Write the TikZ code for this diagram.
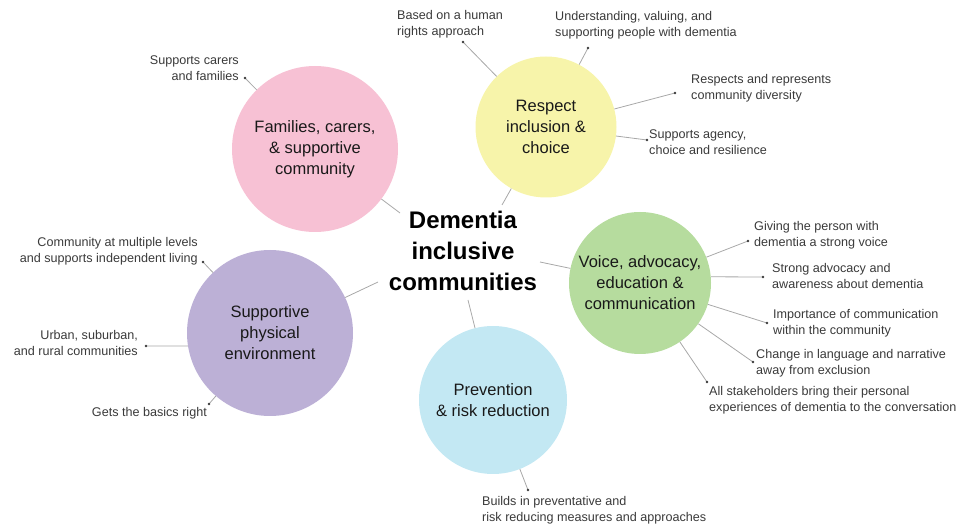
\documentclass[tikz,border=0pt]{standalone}
\usepackage{fontspec}
\setmainfont{Liberation Sans}
\definecolor{pinkc}{HTML}{F7C1D4}
\definecolor{yellowc}{HTML}{F7F4AA}
\definecolor{greenc}{HTML}{B6DC9E}
\definecolor{bluec}{HTML}{C3E8F3}
\definecolor{purplec}{HTML}{BCB0D6}
\definecolor{inkc}{HTML}{3A3A3A}
\definecolor{linkc}{HTML}{A8A8A8}
\begin{document}
\begin{tikzpicture}[x=1pt,y=-1pt,
	topic/.style={circle,inner sep=0pt,align=center,text=black!90,font=\fontsize{16.5}{21}\selectfont},
	hub/.style={align=center,font=\bfseries\fontsize{24}{31}\selectfont},
	notetext/.style={inner sep=0pt,text=inkc,font=\fontsize{12.6}{16.5}\selectfont},
	link/.style={draw=linkc,line width=0.8pt},
	dot/.style={fill=inkc}]
	\useasboundingbox (0,0) rectangle (970,526);
	% circles
	\node[topic,fill=pinkc,minimum size=166](fam) at (315,149){Families, carers,\\\& supportive\\community};
	\node[topic,fill=yellowc,minimum size=141](resp) at (546,127){Respect\\inclusion \&\\choice};
	\node[topic,fill=greenc,minimum size=142](voice) at (640,283){Voice, advocacy,\\education \&\\communication};
	\node[topic,fill=bluec,minimum size=148](prev) at (493,400){Prevention\\\& risk reduction};
	\node[topic,fill=purplec,minimum size=166](phys) at (270,333){Supportive\\physical\\environment};
	\node[hub](hub) at (463,251){Dementia\\inclusive\\communities};
	% links to the hub
	\coordinate (c1) at (400,213);
	\coordinate (c2) at (502,205);
	\coordinate (c3) at (540,262);
	\coordinate (c4) at (468,300);
	\coordinate (c5) at (378,282);
	\path[link]
		(fam) edge (c1)
		(resp) edge (c2)
		(voice) edge (c3)
		(prev) edge (c4)
		(phys) edge (c5);
	% notes
	\node[notetext,anchor=east,align=right](lcarers) at (239,68){Supports carers\\and families};
	\node[notetext,anchor=west,align=left](lhuman) at (397,24){Based on a human\\rights approach};
	\node[notetext,anchor=west,align=left](lvalue) at (555,25){Understanding, valuing, and\\supporting people with dementia};
	\node[notetext,anchor=west,align=left](ldivers) at (691,88){Respects and represents\\community diversity};
	\node[notetext,anchor=west,align=left](lagency) at (649,142){Supports agency,\\choice and resilience};
	\node[notetext,anchor=west,align=left](lvoice) at (754,235){Giving the person with\\dementia a strong voice};
	\node[notetext,anchor=west,align=left](ladvoc) at (772,276){Strong advocacy and\\awareness about dementia};
	\node[notetext,anchor=west,align=left](lcomm) at (773,323){Importance of communication\\within the community};
	\node[notetext,anchor=west,align=left](llang) at (756,363){Change in language and narrative\\away from exclusion};
	\node[notetext,anchor=west,align=left](lstake) at (709,400){All stakeholders bring their personal\\experiences of dementia to the conversation};
	\node[notetext,anchor=west,align=left](lbuild) at (482,510){Builds in preventative and\\risk reducing measures and approaches};
	\node[notetext,anchor=east,align=right](llevels) at (198,251){Community at multiple levels\\and supports independent living};
	\node[notetext,anchor=east,align=right](lurban) at (138,343){Urban, suburban,\\and rural communities};
	\node[notetext,anchor=east,align=right](lbasic) at (207,413){Gets the basics right};
	% note ends
	\coordinate (d1) at (245,78);
	\coordinate (d2) at (463,42);
	\coordinate (d3) at (588,48);
	\coordinate (d4) at (675,93);
	\coordinate (d5) at (647,140);
	\coordinate (d6) at (748,241);
	\coordinate (d7) at (763,277);
	\coordinate (d8) at (767,323);
	\coordinate (d9) at (753,362);
	\coordinate (d10) at (707,382);
	\coordinate (d11) at (528,490);
	\coordinate (d12) at (203,262);
	\coordinate (d13) at (146,346);
	\coordinate (d14) at (209,404);
	\path[link]
		(fam) edge (d1)
		(resp) edge (d2)
		(resp) edge (d3)
		(resp) edge (d4)
		(resp) edge (d5)
		(voice) edge (d6)
		(voice.5) edge (d7)
		(voice) edge (d8)
		(voice) edge (d9)
		(voice) edge (d10)
		(prev) edge (d11)
		(phys) edge (d12)
		(phys.189) edge (d13)
		(phys) edge (d14);
	\foreach \d in {d1,d2,d3,d4,d5,d6,d7,d8,d9,d10,d11,d12,d13,d14}
		\fill[dot] (\d) circle (1.3);
\end{tikzpicture}
\end{document}
